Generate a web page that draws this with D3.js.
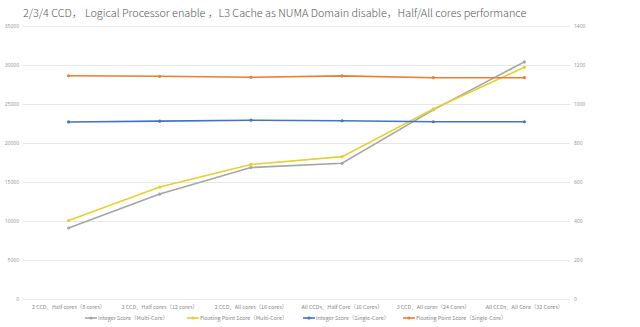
<!DOCTYPE html>
<html>
<head>
<meta charset="utf-8">
<script src="https://cdn.jsdelivr.net/npm/d3@7"></script>
<style>
  html, body { margin: 0; padding: 0; background: #fff; }
  svg { display: block; }
  text { font-family: "Noto Sans CJK SC", "Noto Sans", sans-serif; }
</style>
</head>
<body>
<div id="chart"></div>
<script>
const title = "2/3/4 CCD， Logical Processor enable ，L3 Cache as NUMA Domain disable，Half/All cores performance";
const categories = [
  "2 CCD、Half cores（8 cores）",
  "3 CCD、Half cores（12 cores）",
  "2 CCD、All cores（16 cores）",
  "All CCDs、Half Core（16 Cores）",
  "3 CCD、All cores（24 Cores）",
  "All CCDs、All Core（32 Cores）"
];
const intMulti = [9100, 13450, 16850, 17400, 24250, 30400];
const fpMulti = [10050, 14350, 17250, 18250, 24350, 29700];
const intSingle = [908, 912, 917, 914, 909, 909];
const fpSingle = [1145, 1142, 1137, 1144, 1135, 1135];
const leftTicks = [0, 5000, 10000, 15000, 20000, 25000, 30000, 35000];
const rightTicks = [0, 200, 400, 600, 800, 1000, 1200, 1400];
const seriesNames = [
  "Integer Score（Multi-Core）",
  "Floating Point Score（Multi-Core）",
  "Integer Score（Single-Core）",
  "Floating Point Score（Single-Core）"
];
const colors = ["#A5A5A5", "#E8CF2E", "#4472C4", "#ED7D31"];

const W = 640, H = 327;
const m = {left: 23, right: 70, top: 26, bottom: 28};
const svg = d3.select("#chart").append("svg").attr("width", W).attr("height", H);

const x = d3.scaleBand().domain(categories).range([m.left, W - m.right]).padding(0);
const yL = d3.scaleLinear().domain([0, 35000]).range([H - m.bottom, m.top]);
const yR = d3.scaleLinear().domain([0, 1400]).range([H - m.bottom, m.top]);
const cx = c => x(c) + x.bandwidth() / 2;

// title
svg.append("text").attr("x", 23).attr("y", 17)
  .attr("font-size", 10.8).attr("font-weight", 300).attr("fill", "#555").text(title);

// left axis with grid
const gL = svg.append("g").attr("transform", `translate(${m.left},0)`)
  .call(d3.axisLeft(yL).tickValues(leftTicks).tickSize(-(W - m.right - m.left)).tickPadding(4).tickFormat(d3.format("d")));
gL.select(".domain").remove();
gL.selectAll(".tick line").attr("stroke", "#e6e6e6").attr("stroke-width", 1);
gL.selectAll(".tick text").attr("font-size", 5).attr("fill", "#9a9a9a").style("font-family", "'Noto Sans', sans-serif");

// right axis
const gR = svg.append("g").attr("transform", `translate(${W - m.right},0)`)
  .call(d3.axisRight(yR).tickValues(rightTicks).tickSize(0).tickPadding(4).tickFormat(d3.format("d")));
gR.select(".domain").remove();
gR.selectAll(".tick text").attr("font-size", 5).attr("fill", "#9a9a9a").style("font-family", "'Noto Sans', sans-serif");

// bottom axis labels
const gB = svg.append("g").attr("transform", `translate(0,${H - m.bottom})`)
  .call(d3.axisBottom(x).tickSize(0).tickPadding(6));
gB.select(".domain").remove();
gB.selectAll(".tick text").attr("font-size", 5.4).attr("fill", "#8a8a8a");

const series = [
  {vals: intMulti, y: yL, color: colors[0]},
  {vals: fpMulti, y: yL, color: colors[1]},
  {vals: intSingle, y: yR, color: colors[2]},
  {vals: fpSingle, y: yR, color: colors[3]}
];

series.forEach(s => {
  const line = d3.line().x((d, i) => cx(categories[i])).y(d => s.y(d));
  svg.append("path").datum(s.vals).attr("d", line)
    .attr("fill", "none").attr("stroke", s.color).attr("stroke-width", 1.6);
  svg.selectAll(null).data(s.vals).enter().append("circle")
    .attr("cx", (d, i) => cx(categories[i])).attr("cy", d => s.y(d))
    .attr("r", 1.6).attr("fill", s.color);
});

// legend
const legendX = [85, 187, 303, 403];
const ly = 318;
seriesNames.forEach((n, i) => {
  const g = svg.append("g");
  g.append("line").attr("x1", legendX[i]).attr("x2", legendX[i] + 12)
    .attr("y1", ly).attr("y2", ly).attr("stroke", colors[i]).attr("stroke-width", 1.6);
  g.append("circle").attr("cx", legendX[i] + 6).attr("cy", ly).attr("r", 1.6).attr("fill", colors[i]);
  g.append("text").attr("x", legendX[i] + 13).attr("y", ly).attr("dy", "0.35em")
    .attr("font-size", 5.4).attr("fill", "#8a8a8a").text(n);
});
</script>
</body>
</html>
